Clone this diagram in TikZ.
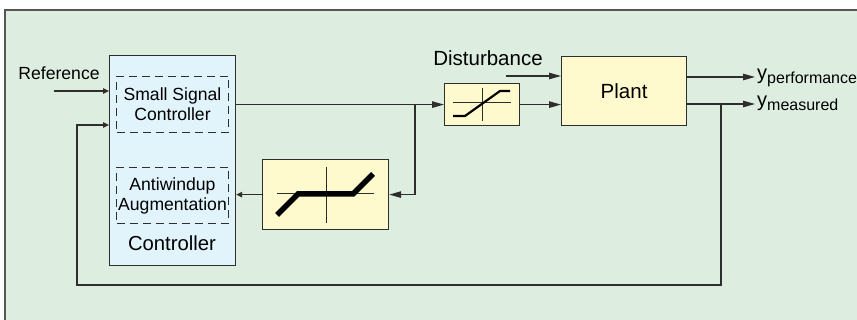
\documentclass[tikz,border=0pt]{standalone}
\usepackage{fontspec}
\setmainfont{Liberation Sans}
\usetikzlibrary{arrows.meta}
\definecolor{bggreen}{HTML}{DDEDE0}
\definecolor{ctrlblue}{HTML}{E1F3FB}
\definecolor{boxyellow}{HTML}{FFFACD}
\definecolor{linegray}{HTML}{2E2E2E}
\definecolor{framegray}{HTML}{555555}
\begin{document}
\begin{tikzpicture}[x=1pt,y=-1pt,
  blk/.style={draw=linegray, line width=1.2pt, inner sep=0pt, anchor=north west},
  dbox/.style={draw=linegray, line width=1pt, dash pattern=on 8pt off 5pt, inner sep=0pt, anchor=north west, align=center, font=\fontsize{17.6}{20}\selectfont},
  sig/.style={draw=linegray, line width=1.2pt, -{Triangle[length=12pt,width=6.5pt]}},
  sigs/.style={draw=linegray, line width=1.2pt, -{Triangle[length=6pt,width=5.5pt]}},
  lbl/.style={inner sep=0pt},
  curveline/.style={draw=black, line cap=butt, line join=miter}]
\useasboundingbox (0,0) rectangle (857,320);
\fill[white] (0,0) rectangle (857,320);
\fill[bggreen] (5,10) rectangle (857,320);
\draw[framegray, line width=1.2pt] (5,320) -- (5,10) -- (857,10);

% blocks
\node[blk, fill=ctrlblue, minimum width=126pt, minimum height=210pt] (ctrl) at (109,55) {};
\node[dbox, minimum width=112pt, minimum height=56pt] (ssc) at (116,76) {Small Signal\\Controller};
\node[dbox, minimum width=112pt, minimum height=56pt] (aw) at (116,167) {Antiwindup\\Augmentation};
\node[lbl, font=\fontsize{20.3}{24}\selectfont] (ctrllbl) at (172,243) {Controller};

\node[blk, fill=boxyellow, minimum width=125pt, minimum height=69pt, font=\fontsize{20.5}{24}\selectfont] (plant) at (561,56) {Plant};
\node[blk, fill=boxyellow, minimum width=75pt, minimum height=42pt] (sat) at (444,83) {};
\node[blk, fill=boxyellow, minimum width=126pt, minimum height=70pt] (big) at (262,159) {};

% saturation glyphs
\draw[linegray, line width=1pt] (453,103) -- (511,103) (482,88) -- (482,121);
\draw[curveline, line width=2.2pt] (453,116) -- (465,116) -- (500,91) -- (510,91);
\draw[linegray, line width=1pt] (277,194) -- (374,194) (326,167) -- (326,223);
\draw[curveline, line width=5.5pt] (277,215) -- (298,194) -- (353,194) -- (373,174);

% labels
\node[lbl, font=\fontsize{17.6}{20}\selectfont] (ref) at (59,73) {Reference};
\node[lbl, font=\fontsize{20.5}{24}\selectfont] (dist) at (488,58) {Disturbance};

% coordinates
\coordinate (refin) at (54,91);
\coordinate (br) at (415,104);
\coordinate (dstart) at (506,76);
\coordinate (yp) at (755,77);
\coordinate (ym) at (755,104);
\coordinate (fb) at (721,104);
\coordinate (bl) at (77,285);
\coordinate (fbin) at (109,125);

\node[lbl, anchor=base west, font=\fontsize{20}{24}\selectfont] (yplbl) at (757,80) {y\raisebox{-4pt}{\fontsize{16}{16}\selectfont performance}};
\node[lbl, anchor=base west, font=\fontsize{20}{24}\selectfont] (ymlbl) at (757,107) {y\raisebox{-4pt}{\fontsize{16}{16}\selectfont measured}};

% connectors
\draw[sigs] (refin) -- (refin -| ctrl.west);
\draw[sig] (ctrl.east |- sat.west) -- (sat.west);
\draw[sig] (br) |- (big.east);
\draw[sigs] (big.west) -- (big.west -| ctrl.east);
\draw[sig] (sat.east) -- (sat.east -| plant.west);
\draw[sig] (dstart) -- (dstart -| plant.west);
\draw[sig] (plant.east |- yp) -- (yp);
\draw[sig] (plant.east |- ym) -- (ym);
\draw[sigs] (fb) |- (bl) |- (fbin);
\end{tikzpicture}
\end{document}
